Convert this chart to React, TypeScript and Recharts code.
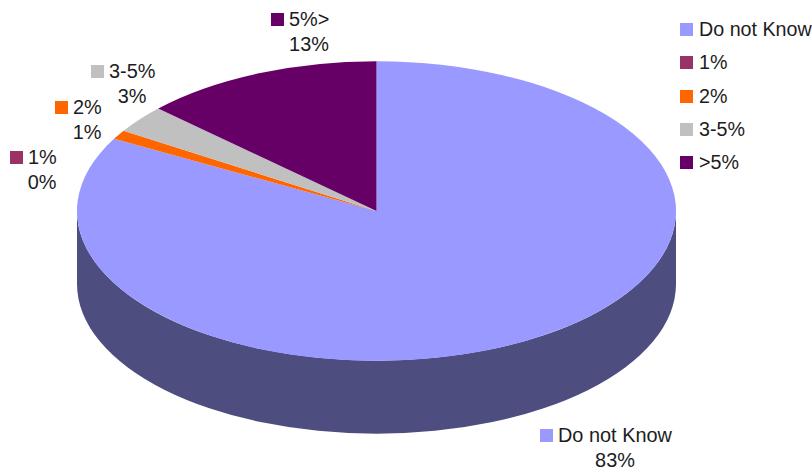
import { Legend, Pie, PieChart } from "recharts";

const categories = ["Do not Know", "1%", "2%", "3-5%", ">5%"];
const sliceLabels = ["Do not Know", "1%", "2%", "3-5%", "5%>"];
const shares = [83, 0, 1, 3, 13];
const colors = ["#9999FF", "#993366", "#FF6600", "#C0C0C0", "#660066"];

const data = categories.map((name, i) => ({ name, value: shares[i], fill: colors[i] }));

const WALL = "#4D4D80";
const TEXT = "#1c1c1c";
const FONT = "'Liberation Sans', Arial, sans-serif";

// vertical squash of the disc and height of its rim
const TILT = 0.5;
const DEPTH = 73;

// swatch corner and centre of the value line for each slice label
const labelSpots = [
  { x: 540, y: 429, mid: 615 },
  { x: 10, y: 151, mid: 42 },
  { x: 55, y: 101, mid: 87 },
  { x: 91, y: 65, mid: 132 },
  { x: 271, y: 13, mid: 309 },
];

const rad = (deg: number) => (deg * Math.PI) / 180;

function DiscSlice(props: any) {
  const { cx, cy, outerRadius: r, startAngle, endAngle, fill, payload } = props;
  const ry = r * TILT;
  const at = (deg: number, drop = 0) => {
    const x = cx + r * Math.cos(rad(deg));
    const y = cy - ry * Math.sin(rad(deg)) + drop;
    return `${x} ${y}`;
  };
  const large = startAngle - endAngle > 180 ? 1 : 0;
  const top = `M ${cx} ${cy} L ${at(startAngle)} A ${r} ${ry} 0 ${large} 1 ${at(endAngle)} Z`;

  // the rim only shows on the front half of the disc (angles -180..0)
  const from = Math.min(startAngle, 0);
  const to = Math.max(endAngle, -180);
  const rim =
    from > to
      ? `M ${at(from)} A ${r} ${ry} 0 0 1 ${at(to)} L ${at(to, DEPTH)} A ${r} ${ry} 0 0 0 ${at(from, DEPTH)} Z`
      : null;

  return (
    <g>
      {rim && <path d={rim} fill={WALL} />}
      <path d={top} fill={fill ?? payload?.fill} />
    </g>
  );
}

function SliceLabel({ index, value }: any) {
  const spot = labelSpots[index];
  return (
    <g fontFamily={FONT} fontSize={19.9} fill={TEXT}>
      <rect x={spot.x} y={spot.y} width={13} height={13} fill={colors[index]} />
      <text x={spot.x + 18} y={spot.y + 13}>
        {sliceLabels[index]}
      </text>
      <text x={spot.mid} y={spot.y + 38} textAnchor="middle">
        {`${value}%`}
      </text>
    </g>
  );
}

function KeyList() {
  return (
    <div style={{ fontFamily: FONT, fontSize: 19.7, color: TEXT }}>
      {data.map((d) => (
        <div key={d.name} style={{ display: "flex", alignItems: "center", height: 33.3, whiteSpace: "nowrap" }}>
          <span style={{ width: 13, height: 13, marginRight: 6, background: d.fill, flex: "none" }} />
          {d.name}
        </div>
      ))}
    </div>
  );
}

export default function App() {
  return (
    <div style={{ position: "absolute", left: 0, top: 0, width: 812, height: 474, background: "#fff" }}>
      <PieChart width={812} height={474} margin={{ top: 0, right: 0, bottom: 0, left: 0 }}>
        <Pie
          data={data}
          dataKey="value"
          nameKey="name"
          cx={376.5}
          cy={211}
          innerRadius={0}
          outerRadius={299.5}
          startAngle={90}
          endAngle={-270}
          stroke="none"
          shape={DiscSlice}
          label={SliceLabel}
          labelLine={false}
          isAnimationActive={false}
        />
        <Legend
          content={<KeyList />}
          wrapperStyle={{ left: 680, top: 13, width: 132, bottom: "auto", right: "auto" }}
        />
      </PieChart>
    </div>
  );
}
